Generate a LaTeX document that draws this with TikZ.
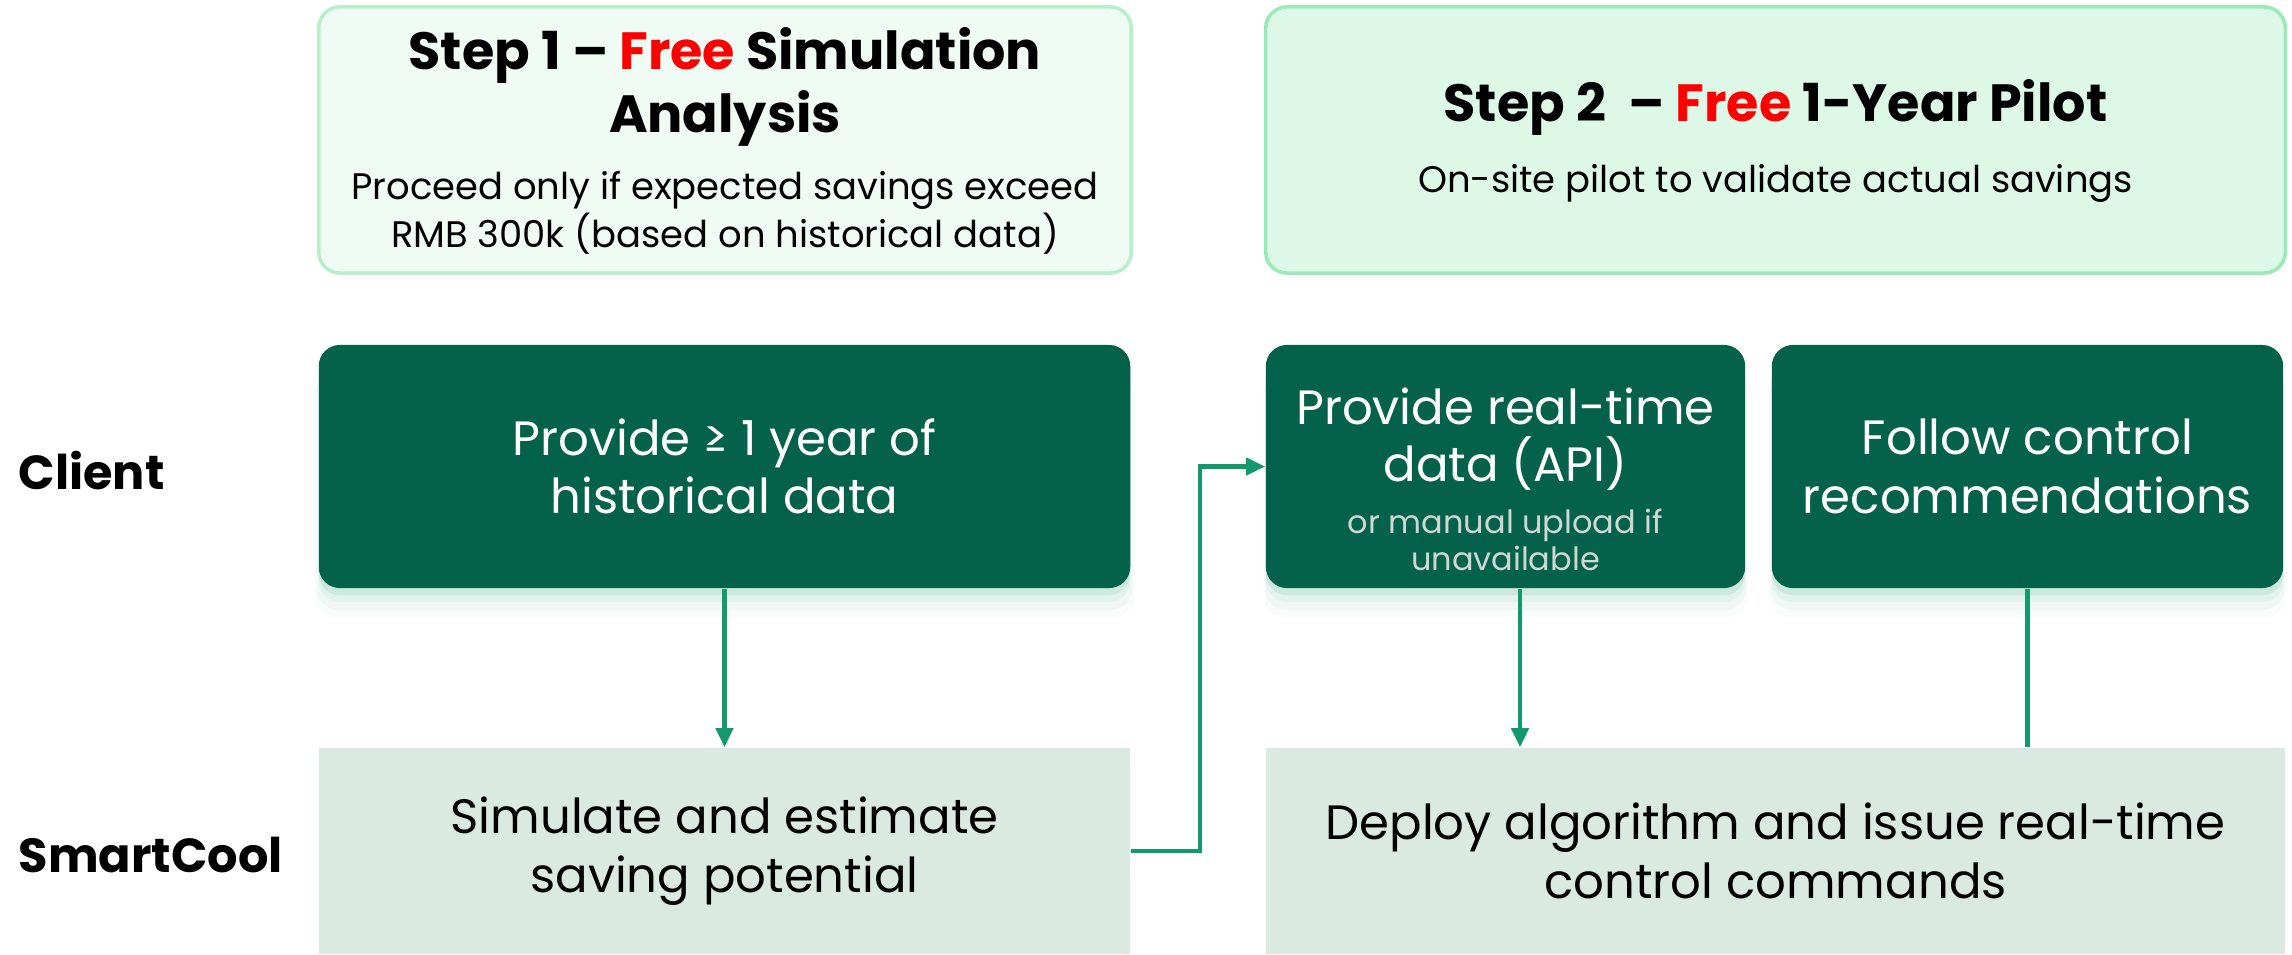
\documentclass[tikz,border=0pt]{standalone}
\usepackage{fontspec}
\setmainfont{Poppins}
\usetikzlibrary{shadows,arrows.meta}

\definecolor{darkgreen}{HTML}{04614A}
\definecolor{palegreen}{HTML}{DAEAE2}
\definecolor{flowgreen}{HTML}{129A6C}
\definecolor{freered}{HTML}{FF0000}
\definecolor{steponefill}{HTML}{EFFBF3}
\definecolor{steponeline}{HTML}{B7EFCB}
\definecolor{steptwofill}{HTML}{DDF8E7}
\definecolor{steptwoline}{HTML}{98EBB6}
\definecolor{shadowgreen}{HTML}{9FD3C2}
\definecolor{subgray}{HTML}{CFD8D4}

\newcommand{\titlefont}{\fontsize{14.9}{17.9}\selectfont\bfseries}
\newcommand{\bodyfont}{\fontsize{10.5}{12}\selectfont}
\newcommand{\mainfont}{\fontsize{13.7}{16.6}\selectfont}
\newcommand{\smallfont}{\fontsize{9.1}{10.4}\selectfont}

\begin{document}
\begin{tikzpicture}[x=0.01cm, y=-0.01cm,
    stepone/.style={draw=steponeline, fill=steponefill, line width=1pt, rounded corners=6pt},
    steptwo/.style={draw=steptwoline, fill=steptwofill, line width=1pt, rounded corners=6pt},
    steptitle/.style={align=center, font=\titlefont},
    stepnote/.style={align=center, font=\bodyfont},
    clientbox/.style={fill=darkgreen, text=white, rounded corners=6pt, align=center, font=\mainfont,
      drop shadow={shadow xshift=0pt, shadow yshift=-2pt, fill=shadowgreen, opacity=0.3},
      drop shadow={shadow xshift=0pt, shadow yshift=-4pt, fill=shadowgreen, opacity=0.18},
      drop shadow={shadow xshift=0pt, shadow yshift=-6pt, shadow scale=1.005, fill=shadowgreen, opacity=0.1},
      drop shadow={shadow xshift=0pt, shadow yshift=-8pt, shadow scale=1.01, fill=shadowgreen, opacity=0.06}},
    clienttext/.style={text=white, align=center, font=\fontsize{13.7}{16.2}\selectfont},
    clientnote/.style={text=subgray, align=center, font=\smallfont},
    coolbox/.style={fill=palegreen, align=center, font=\mainfont},
    rowlabel/.style={anchor=west, inner sep=0pt, font=\fontsize{13.6}{16}\selectfont\bfseries},
    flow/.style={draw=flowgreen, line width=1.2pt},
    flowtip/.style={-{Triangle[length=0.19cm, width=0.17cm]}}]

  \useasboundingbox (0,0) rectangle (2292,954);

  % Step 1
  \node[stepone, minimum width=8.12cm, minimum height=2.66cm] (s1) at (725,140) {};
  \node[steptitle] (s1title) at (725,87) {Step 1 – {\color{freered}Free} Simulation\\ Analysis};
  \node[stepnote] (s1note) at (725,213) {Proceed only if expected savings exceed\\ RMB 300k (based on historical data)};

  % Step 2
  \node[steptwo, minimum width=10.19cm, minimum height=2.66cm] (s2) at (1775.5,140) {};
  \node[steptitle] (s2title) at (1775.5,107) {Step 2\ \ – {\color{freered}Free} 1-Year Pilot};
  \node[stepnote] (s2note) at (1775.5,183) {On-site pilot to validate actual savings};

  % Row labels
  \node[rowlabel] (lclient) at (18,471) {Client};
  \node[rowlabel] (lcool) at (18,855) {SmartCool};

  % Client row
  \node[clientbox, minimum width=8.11cm, minimum height=2.43cm] (c1) at (724.5,466.5)
    {Provide ≥ 1 year of\\ historical data};
  \node[clientbox, minimum width=4.79cm, minimum height=2.43cm] (c2) at (1505.5,466.5) {};
  \node[clienttext] (c2text) at (1505.5,439) {Provide real-time\\ data (API)};
  \node[clientnote] (c2note) at (1505.5,540) {or manual upload if\\ unavailable};
  \node[clientbox, minimum width=5.11cm, minimum height=2.43cm] (c3) at (2027.5,466.5)
    {Follow control\\ recommendations};

  % SmartCool row
  \node[coolbox, minimum width=8.11cm, minimum height=2.06cm] (m1) at (724.5,851)
    {Simulate and estimate\\ saving potential};
  \node[coolbox, minimum width=10.19cm, minimum height=2.06cm] (m2) at (1775.5,851)
    {Deploy algorithm and issue real-time\\ control commands};

  % Flows
  \draw[flow,flowtip] (c1.south) -- (m1.north);
  \draw[flow,flowtip] (m1.east) -- ++(69,0) |- (c2.west);
  \draw[flow,flowtip] ([xshift=0.145cm]c2.south) -- ([xshift=0.145cm]c2.south |- m2.north);
  \draw[flow] (c3.south) -- (c3.south |- m2.north);

\end{tikzpicture}
\end{document}
